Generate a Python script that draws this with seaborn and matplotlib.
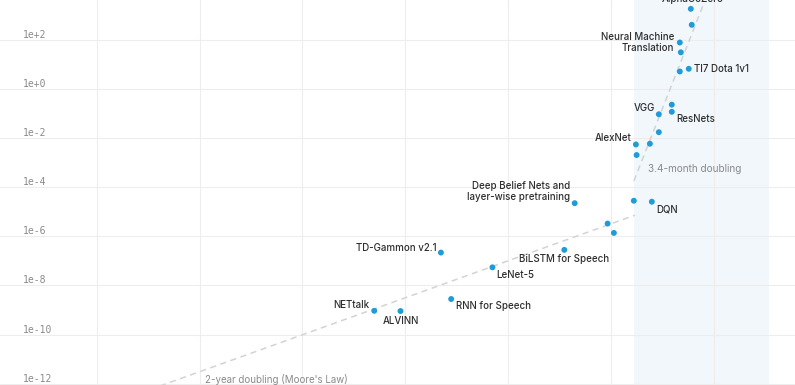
import numpy as np
import pandas as pd
import matplotlib
matplotlib.use("Agg")
import matplotlib.pyplot as plt
import seaborn as sns

# petaflop/s-days used to train each system
years = [2017.77, 2017.86, 2016.70, 2016.80, 2016.70, 2017.57, 2014.66, 2015.92,
         2015.92, 2014.66, 2012.43, 2013.79, 2012.50, 2012.23, 2013.98, 2009.68,
         2010.29, 2005.47, 2006.48, 1993.47, 1998.48, 1994.47, 1986.99, 1989.54]
log_compute = [3.26, 2.61, 1.89, 1.49, 0.71, 0.82, -1.03, -0.64,
               -0.93, -1.76, -2.26, -2.23, -2.69, -4.55, -4.59, -5.48,
               -5.86, -6.55, -4.65, -6.66, -7.26, -8.55, -9.03, -9.04]
names = ["AlphaGoZero", "", "Neural Machine\nTranslation", "", "", "TI7 Dota 1v1", "VGG", "",
         "ResNets", "", "AlexNet", "", "", "", "DQN", "",
         "", "BiLSTM for Speech", "Deep Belief Nets and\nlayer-wise pretraining", "TD-Gammon v2.1",
         "LeNet-5", "RNN for Speech", "NETtalk", "ALVINN"]

# trend lines: (year, log10 compute) anchor and doubling time in years
moore_anchor = (2012.33, -5.14)
moore_doubling = 2.0
modern_anchor = (2012.23, -3.75)
modern_doubling = 3.4 / 12

ytick_exp = [-12, -10, -8, -6, -4, -2, 0, 2]
xtick_years = [1960, 1970, 1980, 1990, 2000, 2010, 2020]

df = pd.DataFrame({"year": years, "compute": [10.0 ** v for v in log_compute], "name": names})

# label placement: offset (points), horizontal alignment
label_style = {
    "AlphaGoZero": ((1, 7), "center"),
    "Neural Machine\nTranslation": ((-4, 0), "right"),
    "TI7 Dota 1v1": ((3.6, 0), "left"),
    "VGG": ((-3, 4.5), "right"),
    "ResNets": ((3, -5.5), "left"),
    "AlexNet": ((-3, 5), "right"),
    "DQN": ((3, -5.5), "left"),
    "Deep Belief Nets and\nlayer-wise pretraining": ((-3.4, 8.3), "right"),
    "TD-Gammon v2.1": ((-3, 3), "right"),
    "LeNet-5": ((3, -5.5), "left"),
    "BiLSTM for Speech": ((0, -6.7), "center"),
    "RNN for Speech": ((3.4, -5), "left"),
    "NETtalk": ((-3.6, 4), "right"),
    "ALVINN": ((0, -7.2), "center"),
}

sns.set_theme(style="white")
plt.rcParams["font.family"] = ["Inter", "DejaVu Sans"]

fig = plt.figure(figsize=(7.95, 3.85), dpi=100)
ax = fig.add_axes([0, 0, 1, 1])

ax.axvspan(2012.23, 2025.4, color="#f1f7fb", zorder=0, lw=0)

# trend lines
moore_x = np.array([1950.0, moore_anchor[0]])
moore_y = 10.0 ** (moore_anchor[1] + np.log10(2) / moore_doubling * (moore_x - moore_anchor[0]))
ax.plot(moore_x, moore_y, color="#d3d3d3", lw=1.1, dashes=(4, 3), zorder=1)
modern_x = np.array([modern_anchor[0], 2019.0])
modern_y = 10.0 ** (modern_anchor[1] + np.log10(2) / modern_doubling * (modern_x - modern_anchor[0]))
ax.plot(modern_x, modern_y, color="#d3d3d3", lw=1.1, dashes=(4, 3), zorder=1)

sns.scatterplot(data=df, x="year", y="compute", ax=ax, color="#1f9bd7",
                s=18, edgecolor="none", zorder=3, legend=False)

ax.set_yscale("log")
ax.set_xlim(1950.6, 2027.9)
ax.set_ylim(10.0 ** -12.05, 10.0 ** 3.62)

for _, row in df.iterrows():
    if row["name"] in label_style:
        (dx, dy), ha = label_style[row["name"]]
        ax.annotate(row["name"], (row["year"], row["compute"]), xytext=(dx, dy),
                    textcoords="offset points", ha=ha, va="center", multialignment=ha,
                    fontsize=7, fontweight="medium", color="#2e2e2e", linespacing=1.15,
                    zorder=4)

ax.text(2013.59, 10.0 ** -3.275, "3.4-month doubling", fontsize=7.2, color="#8a8a8a",
        ha="left", va="center")
ax.text(1970.58, 10.0 ** -11.84, "2-year doubling (Moore's Law)", fontsize=7, color="#8a8a8a",
        ha="left", va="center")

ax.set_yticks([10.0 ** e for e in ytick_exp])
ax.set_yticklabels([f"1e{e:+d}" for e in ytick_exp])
ax.yaxis.set_minor_locator(matplotlib.ticker.NullLocator())
ax.set_xticks(xtick_years)
ax.set_xticklabels([])
ax.tick_params(axis="both", length=0)
ax.tick_params(axis="y", pad=-16.5, labelcolor="#8a8a8a")
for lab in ax.get_yticklabels():
    lab.set_horizontalalignment("left")
    lab.set_verticalalignment("bottom")
    lab.set_fontfamily("DejaVu Sans Mono")
    lab.set_fontsize(7)

ax.grid(True, color="#ededed", lw=0.8)
ax.set_axisbelow(True)
ax.set_xlabel("")
ax.set_ylabel("")
sns.despine(ax=ax, left=True, bottom=True)

fig.savefig("out.png", dpi=100)
